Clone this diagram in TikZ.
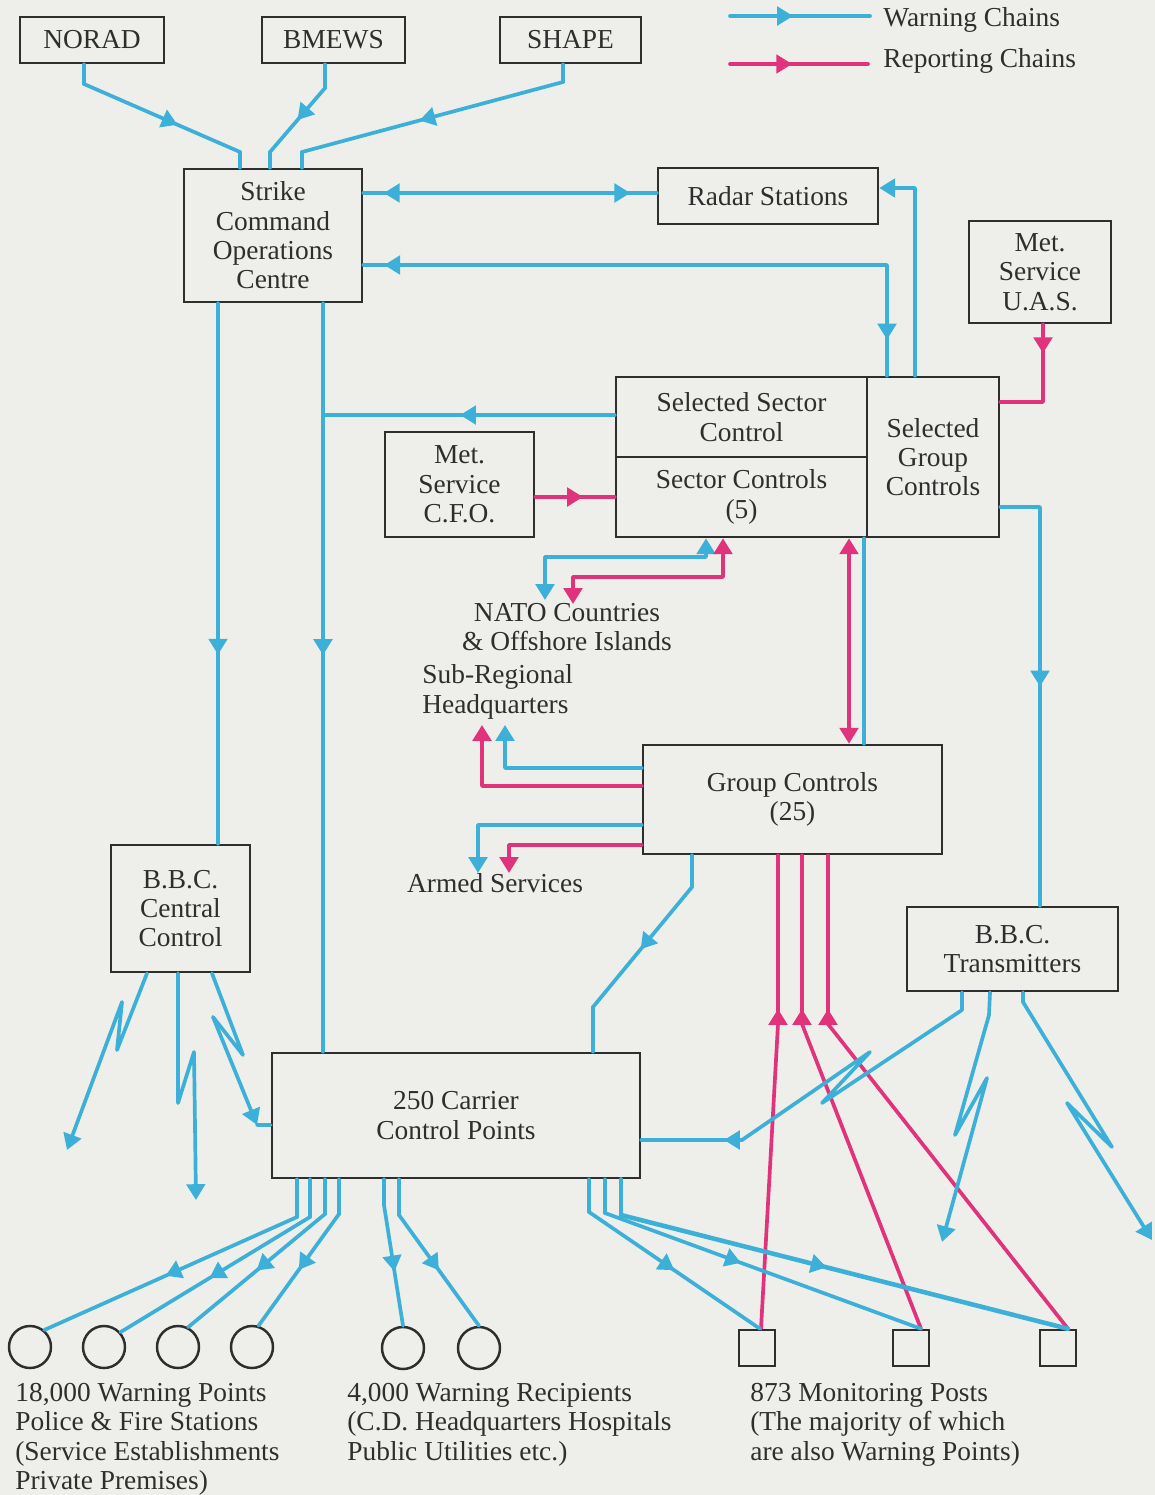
\documentclass[tikz,border=0pt]{standalone}
\usepackage{fontspec}
\setmainfont{Liberation Serif}
\usetikzlibrary{positioning,arrows.meta,decorations.markings}

\definecolor{paper}{HTML}{EEEFEA}
\definecolor{ink}{HTML}{2E2E2E}
\definecolor{warnblue}{HTML}{3CB0D8}
\definecolor{reppink}{HTML}{E0337B}

\newcommand{\labfont}{\fontsize{15.6}{16.7}\selectfont}

\tikzset{
  hd/.tip={Triangle[length=9pt,width=10.5pt]},
  box/.style={draw=ink, line width=1.5pt, text=ink, align=center, inner sep=0pt, font=\labfont},
  lab/.style={text=ink, inner sep=0pt, font=\labfont},
  circ/.style={circle, draw=ink, line width=1.4pt, minimum size=0.84cm, inner sep=0pt},
  sq/.style={rectangle, draw=ink, line width=1.4pt, minimum size=0.72cm, inner sep=0pt},
  warn/.style={color=warnblue, line width=2.1pt, line cap=round, line join=round},
  report/.style={color=reppink, line width=2.1pt, line cap=round, line join=round},
  tip/.style={postaction={decorate, decoration={markings, mark=at position #1 with {\arrow{hd}}}}},
  rtip/.style={postaction={decorate, decoration={markings, mark=at position #1 with {\arrowreversed{hd}}}}},
}

\begin{document}
\begin{tikzpicture}[x=0.02cm, y=-0.02cm]
\path[use as bounding box, fill=paper] (0,0) rectangle (1155,1495);

\node[box, minimum width=2.88cm, minimum height=0.92cm] (NORAD) at (92,40) {NORAD};
\node[box, minimum width=2.86cm, minimum height=0.92cm] (BMEWS) at (333.5,40) {BMEWS};
\node[box, minimum width=2.82cm, minimum height=0.92cm] (SHAPE) at (570.5,40) {SHAPE};
\node[box, minimum width=3.56cm, minimum height=2.66cm] (SCOC) at (273,235.5) {Strike\\Command\\Operations\\Centre};
\node[box, minimum width=4.4cm, minimum height=1.12cm] (radar) at (768,196) {Radar Stations};
\node[box, minimum width=2.84cm, minimum height=2.04cm] (metUAS) at (1040,272) {Met.\\Service\\U.A.S.};
\node[box, minimum width=5.02cm, minimum height=1.6cm] (selSector) at (741.5,417) {Selected Sector\\Control};
\node[box, minimum width=5.02cm, minimum height=1.6cm] (sector) at (741.5,497) {Sector Controls\\(5)};
\node[box, minimum width=2.64cm, minimum height=3.2cm] (selGroup) at (933,457) {Selected\\Group\\Controls};
\node[box, minimum width=2.98cm, minimum height=2.1cm] (metCFO) at (459.5,484.5) {Met.\\Service\\C.F.O.};
\node[box, minimum width=5.98cm, minimum height=2.18cm] (group) at (792.5,799.5) {Group Controls\\(25)};
\node[box, minimum width=2.78cm, minimum height=2.54cm] (bbcCentral) at (180.5,908.5) {B.B.C.\\Central\\Control};
\node[box, minimum width=4.22cm, minimum height=1.68cm] (bbcTrans) at (1012.5,949) {B.B.C.\\Transmitters};
\node[box, minimum width=7.36cm, minimum height=2.5cm] (carrier) at (456,1115.5) {250 Carrier\\Control Points};

\node[circ] (WP1) at (30,1347) {};
\node[circ] (WP2) at (104,1347) {};
\node[circ] (WP3) at (178,1347) {};
\node[circ] (WP4) at (252,1347) {};
\node[circ] (WR1) at (403,1348) {};
\node[circ] (WR2) at (479,1348) {};
\node[sq] (MP1) at (757,1348) {};
\node[sq] (MP2) at (911,1348) {};
\node[sq] (MP3) at (1058,1348) {};

\node[lab, anchor=west] (legW) at (883,20) {Warning Chains};
\node[lab, anchor=west] (legR) at (883,61) {Reporting Chains};
\node[lab, align=center] (NATO) at (567,627) {NATO Countries\\\& Offshore Islands};
\node[lab, align=left, anchor=west] (subReg) at (422,692) {Sub-Regional\\Headquarters};
\node[lab] (armed) at (495,883) {Armed Services};
\node[lab, align=left, anchor=north west] (WPtext) at (15,1383) {18,000 Warning Points\\Police \& Fire Stations\\(Service Establishments\\Private Premises)};
\node[lab, align=left, anchor=north west] (WRtext) at (347,1383) {4,000 Warning Recipients\\(C.D. Headquarters Hospitals\\Public Utilities etc.)};
\node[lab, align=left, anchor=north west] (MPtext) at (750,1383) {873 Monitoring Posts\\(The majority of which\\are also Warning Points)};

\coordinate (lw1) at (730,16);
\coordinate (lw2) at (870,16);
\coordinate (lr1) at (730,64);
\coordinate (lr2) at (868,64);
\draw[warn, tip=.45] (lw1) -- (lw2);
\draw[report, tip=.45] (lr1) -- (lr2);

\coordinate (n1) at (84,84);
\coordinate (n2) at (240,152);
\draw[warn] (NORAD.south -| n1) -- (n1) edge[tip=.6] (n2) (n2) -- (SCOC.north -| n2);
\coordinate (b1) at (325,88);
\coordinate (b2) at (270,152);
\draw[warn] (BMEWS.south -| b1) -- (b1) edge[tip=.5] (b2) (b2) -- (SCOC.north -| b2);
\coordinate (s1) at (563,82);
\coordinate (s2) at (302,152);
\draw[warn] (SHAPE.south -| s1) -- (s1) edge[tip=.55] (s2) (s2) -- (SCOC.north -| s2);

\coordinate (r1) at (500,193);
\draw[warn, rtip=.07, tip=.91] (SCOC.east |- r1) -- (radar.west |- r1);
\coordinate (g1) at (915,188);
\draw[warn, -hd] (selGroup.north -| g1) -- (g1) -- (radar.east |- g1);
\coordinate (k1) at (887,265);
\draw[warn, rtip=.033, tip=.943] (SCOC.east |- k1) -- (k1) -- (selSector.north -| k1);

\coordinate (d1) at (218,600);
\draw[warn, tip=.65] (SCOC.south -| d1) -- (bbcCentral.north -| d1);
\coordinate (d2) at (323,415);
\draw[warn, tip=.47] (SCOC.south -| d2) -- (carrier.north -| d2);
\draw[warn, tip=.53] (selSector.west |- d2) -- (d2);

\draw[report, tip=.6] (metCFO.east |- sector.west) -- (sector.west);
\coordinate (u1) at (1043,402);
\draw[report, tip=.24] (metUAS.south -| u1) -- (u1) -- (selGroup.east |- u1);
\coordinate (t1) at (1040,507);
\draw[warn, tip=.5] (selGroup.east |- t1) -- (t1) -- (bbcTrans.north -| t1);

\coordinate (a1) at (706,557);
\coordinate (a2) at (545,600);
\draw[warn, hd-hd] (sector.south -| a1) -- (a1) -| (a2);
\coordinate (a3) at (723,577);
\coordinate (a4) at (573,604);
\draw[report, hd-hd] (sector.south -| a3) -- (a3) -| (a4);

\coordinate (v1) at (849,600);
\draw[report, hd-hd] (sector.south -| v1) -- (group.north -| v1);
\coordinate (v2) at (864,600);
\draw[warn] (selGroup.south -| v2) -- (group.north -| v2);

\coordinate (sr1) at (505,725);
\coordinate (sr2) at (482,725);
\coordinate (as1) at (478,873);
\coordinate (as2) at (509,873);
\coordinate (gl1) at (600,768);
\coordinate (gl2) at (600,786);
\coordinate (gl3) at (600,825);
\coordinate (gl4) at (600,845);
\draw[warn, -hd] (group.west |- gl1) -| (sr1);
\draw[report, -hd] (group.west |- gl2) -| (sr2);
\draw[warn, -hd] (group.west |- gl3) -| (as1);
\draw[report, -hd] (group.west |- gl4) -| (as2);

\coordinate (c1) at (692,887);
\coordinate (c2) at (593,1007);
\draw[warn] (group.south -| c1) -- (c1) edge[tip=.52] (c2) (c2) -- (carrier.north -| c2);

\coordinate (m1) at (778,1024);
\coordinate (m2) at (802,1024);
\coordinate (m3) at (828,1024);
\draw[report] ([xshift=0.08cm]MP1.north) -- (m1) edge[tip=0.3cm] (group.south -| m1);
\draw[report] ([xshift=0.2cm]MP2.north) -- (m2) edge[tip=0.3cm] (group.south -| m2);
\draw[report] ([xshift=0.2cm]MP3.north) -- (m3) edge[tip=0.3cm] (group.south -| m3);

\coordinate (z1a) at (117,1050);
\coordinate (z1b) at (122,1002);
\coordinate (z1c) at (67,1150);
\draw[warn, -hd] ([xshift=-0.67cm]bbcCentral.south) -- (z1a) -- (z1b) -- (z1c);
\coordinate (z2a) at (178,1103);
\coordinate (z2b) at (194,1052);
\coordinate (z2c) at (196,1200);
\draw[warn, -hd] ([xshift=-0.05cm]bbcCentral.south) -- (z2a) -- (z2b) -- (z2c);
\coordinate (z3a) at (243,1055);
\coordinate (z3b) at (213,1017);
\coordinate (z3c) at (257,1125);
\draw[warn] ([xshift=0.63cm]bbcCentral.south) -- (z3a) -- (z3b) edge[-hd] (z3c) (z3c) -- (carrier.west |- z3c);

\coordinate (y1) at (962,1010);
\coordinate (y1a) at (822,1103);
\coordinate (y1b) at (870,1052);
\coordinate (y1c) at (742,1140);
\draw[warn] ([xshift=-1.01cm]bbcTrans.south) -- (y1) -- (y1a) -- (y1b) -- (y1c) edge[tip=0.36cm] (carrier.east |- y1c);
\coordinate (y2) at (989,1015);
\coordinate (y2a) at (955,1135);
\coordinate (y2b) at (987,1078);
\coordinate (y2c) at (942,1242);
\draw[warn, -hd] ([xshift=-0.45cm]bbcTrans.south) -- (y2) -- (y2a) -- (y2b) -- (y2c);
\coordinate (y3) at (1023,1002);
\coordinate (y3a) at (1112,1147);
\coordinate (y3b) at (1067,1103);
\coordinate (y3c) at (1152,1240);
\draw[warn, -hd] ([xshift=0.21cm]bbcTrans.south) -- (y3) -- (y3a) -- (y3b) -- (y3c);

\coordinate (w1) at (297,1217);
\coordinate (w2) at (310,1217);
\coordinate (w3) at (325,1214);
\coordinate (w4) at (339,1214);
\coordinate (w5) at (384,1205);
\coordinate (w6) at (399,1215);
\coordinate (w7) at (589,1212);
\coordinate (w8) at (605,1213);
\coordinate (w9) at (621,1215);
\draw[warn] (carrier.south -| w1) -- (w1) edge[tip=.52] (WP1.50);
\draw[warn] (carrier.south -| w2) -- (w2) edge[tip=.53] (WP2.42);
\draw[warn] (carrier.south -| w3) -- (w3) edge[tip=.5] (WP3.63);
\draw[warn] (carrier.south -| w4) -- (w4) edge[tip=.5] (WP4.73);
\draw[warn] (carrier.south -| w5) -- (w5) edge[tip=.55] (WR1.north);
\draw[warn] (carrier.south -| w6) -- (w6) edge[tip=.5] (WR2.north);
\draw[warn] (carrier.south -| w7) -- (w7) edge[tip=.5] ([xshift=0.06cm]MP1.north);
\draw[warn] (carrier.south -| w8) -- (w8) edge[tip=.43] ([xshift=0.2cm]MP2.north);
\draw[warn, line width=2.6pt] (carrier.south -| w9) -- (w9) edge[tip=.46] ([xshift=0.2cm]MP3.north);
\end{tikzpicture}
\end{document}
